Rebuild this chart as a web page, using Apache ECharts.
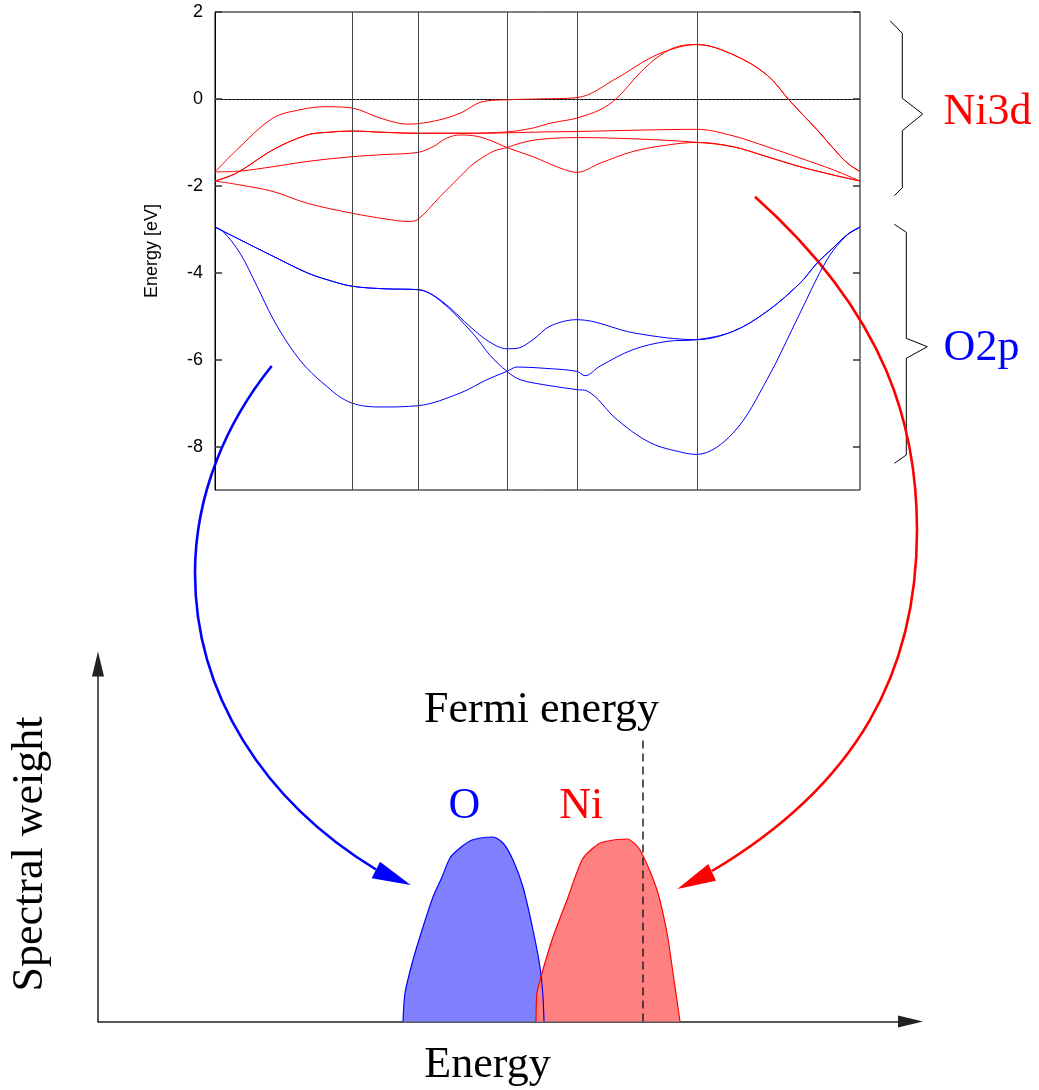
<!DOCTYPE html>
<html>
<head>
<meta charset="utf-8">
<title>NiO bands and spectral weight</title>
<script src="https://cdn.jsdelivr.net/npm/echarts@6/dist/echarts.min.js"></script>
<style>
  html, body { margin: 0; padding: 0; background: #fff; }
  #main { width: 1039px; height: 1090px; }
</style>
</head>
<body>
<div id="main"></div>
<script>
// k-path (arbitrary units) and high symmetry points
var kMax = 645;
var symPoints = [137, 203, 292, 362, 482];
var energyTicks = [-8, -6, -4, -2, 0, 2];

// Ni 3d bands, [k, E in eV]
var ni1 = [[0,-1.68],[25,-1.1],[58,-0.44],[85,-0.25],[110,-0.18],[137,-0.21],[165,-0.44],[193,-0.58],[203,-0.57],
  [225,-0.48],[245,-0.33],[268,-0.06],[292,-0.02],[325,0.0],[362,0.03],[402,0.48],[435,0.94],[462,1.18],[482,1.25],
  [518,1.02],[552,0.55],[575,-0.05],[602,-0.71],[618,-1.13],[632,-1.47],[645,-1.67]];
var ni2 = [[0,-1.89],[22,-1.7],[58,-1.17],[92,-0.83],[112,-0.77],[137,-0.74],[170,-0.77],[203,-0.79],[250,-0.79],
  [292,-0.76],[318,-0.67],[335,-0.56],[352,-0.49],[362,-0.44],[385,-0.25],[402,0.02],[425,0.6],[445,1.0],[465,1.22],
  [482,1.25],[518,1.02],[552,0.55],[575,-0.05],[602,-0.71],[618,-1.13],[632,-1.47],[645,-1.67]];
var ni3 = [[0,-1.89],[22,-1.7],[58,-1.17],[92,-0.83],[112,-0.77],[137,-0.74],[170,-0.77],[203,-0.79],[250,-0.79],
  [292,-0.78],[330,-0.76],[362,-0.75],[420,-0.72],[482,-0.70],[518,-0.85],[552,-1.1],[585,-1.36],[618,-1.63],[645,-1.89]];
var ni4 = [[0,-1.68],[25,-1.66],[58,-1.56],[92,-1.44],[137,-1.33],[170,-1.28],[203,-1.23],[218,-1.1],[232,-0.9],
  [245,-0.83],[262,-0.86],[278,-0.98],[292,-1.12],[318,-1.33],[345,-1.59],[362,-1.69],[385,-1.48],[418,-1.21],
  [450,-1.07],[482,-1.0],[518,-1.1],[552,-1.33],[585,-1.56],[618,-1.75],[645,-1.89]];
var ni5 = [[0,-1.89],[25,-1.98],[58,-2.13],[92,-2.4],[137,-2.63],[170,-2.76],[193,-2.82],[203,-2.77],[225,-2.25],
  [245,-1.79],[258,-1.5],[278,-1.21],[292,-1.12],[305,-1.02],[325,-0.93],[362,-0.89],[420,-0.92],[482,-1.0],
  [518,-1.1],[552,-1.33],[585,-1.56],[618,-1.75],[645,-1.89]];

// O 2p bands
var o1 = [[0,-2.95],[25,-3.24],[58,-3.62],[92,-4.0],[112,-4.16],[137,-4.31],[170,-4.37],[203,-4.39],[225,-4.62],
  [258,-5.3],[275,-5.6],[292,-5.75],[302,-5.74],[318,-5.54],[335,-5.23],[362,-5.08],[420,-5.39],[482,-5.54],
  [518,-5.35],[552,-4.89],[585,-4.24],[602,-3.78],[618,-3.43],[632,-3.13],[645,-2.95]];
var o2 = [[0,-2.95],[25,-3.24],[58,-3.62],[92,-4.0],[112,-4.16],[137,-4.31],[170,-4.37],[203,-4.39],[225,-4.64],
  [258,-5.4],[275,-5.9],[292,-6.27],[305,-6.46],[335,-6.6],[362,-6.69],[372,-6.72],[402,-7.38],[435,-7.91],
  [468,-8.14],[482,-8.18],[518,-7.69],[552,-6.46],[585,-4.93],[612,-3.7],[632,-3.13],[645,-2.95]];
var o3 = [[0,-2.95],[8,-3.05],[25,-3.55],[42,-4.31],[58,-5.06],[75,-5.7],[92,-6.2],[112,-6.62],[125,-6.86],
  [137,-7.0],[150,-7.07],[165,-7.09],[203,-7.06],[245,-6.77],[272,-6.46],[292,-6.27],[302,-6.17],[330,-6.2],
  [362,-6.27],[370,-6.37],[385,-6.15],[418,-5.77],[452,-5.58],[482,-5.54],[518,-5.35],[552,-4.89],[585,-4.24],
  [602,-3.78],[618,-3.43],[632,-3.13],[645,-2.95]];

// spectral weight, [energy, weight] (arbitrary units)
var oWeight = [[3.05,0],[3.07,0.285],[3.15,0.615],[3.25,0.945],[3.35,1.245],[3.44,1.445],[3.52,1.635],[3.62,1.735],
  [3.74,1.815],[3.95,1.845],[4.05,1.785],[4.15,1.615],[4.25,1.345],[4.35,0.915],[4.42,0.545],[4.45,0.245],[4.46,0]];
var niWeight = [[4.38,0],[4.39,0.285],[4.44,0.485],[4.55,0.845],[4.69,1.215],[4.84,1.615],[4.95,1.735],[5.05,1.795],
  [5.29,1.825],[5.42,1.715],[5.59,1.315],[5.69,0.885],[5.75,0.485],[5.82,0]];
var fermiEnergy = 5.45;
var fermiTop = 2.835;

var chart = echarts.init(document.getElementById('main'));

function band(data, color) {
  return {
    type: 'line', xAxisIndex: 0, yAxisIndex: 0, data: data,
    showSymbol: false, smooth: 0.35, silent: true,
    lineStyle: { color: color, width: 1 }
  };
}

var series = [
  {
    type: 'line', xAxisIndex: 0, yAxisIndex: 0, data: [], silent: true,
    markLine: {
      symbol: ['none', 'none'], silent: true, animation: false,
      label: { show: false },
      lineStyle: { color: '#444', width: 1, type: 'solid' },
      data: symPoints.map(function (k) { return { xAxis: k }; }).concat([
        { yAxis: 0, lineStyle: { color: '#555', width: 1, type: [1.5, 2.5] } }
      ])
    }
  },
  band(ni1, '#ff0000'), band(ni2, '#ff0000'), band(ni3, '#ff0000'), band(ni4, '#ff0000'), band(ni5, '#ff0000'),
  band(o1, '#0000ff'), band(o2, '#0000ff'), band(o3, '#0000ff'),
  {
    type: 'line', xAxisIndex: 1, yAxisIndex: 2, data: oWeight, showSymbol: false, smooth: 0.25, silent: true,
    lineStyle: { color: '#0000ff', width: 1.2 },
    areaStyle: { color: '#8080ff', opacity: 1 }
  },
  {
    type: 'line', xAxisIndex: 1, yAxisIndex: 2, data: niWeight, showSymbol: false, smooth: 0.25, silent: true,
    lineStyle: { color: '#ff0000', width: 1.2 },
    areaStyle: { color: '#ff8080', opacity: 1 }
  },
  {
    type: 'line', xAxisIndex: 1, yAxisIndex: 2, showSymbol: false, silent: true,
    data: [[fermiEnergy, 0], [fermiEnergy, fermiTop]],
    lineStyle: { color: '#222', width: 1.5, type: [8, 5] }
  }
];

// curly braces, curved arrows (start, control 1, control 2, end)
var ni3dBrace = [[890,20.7],[902.3,33.3],[902.3,98.3],[922.7,114],[902.3,130.7],[902.3,187.7],[894.3,195.7]];
var o2pBrace = [[894.3,224.3],[906.3,232.3],[906.3,338.3],[927.3,346.7],[906.3,358.3],[906.3,455],[894.3,463.3]];
var blueArc = [
  [[271.7,366],[227.6,420.6],[195,493],[195,573]],
  [[195,573],[195,693],[262.8,800.4],[376,869.5]]
];
var redArc = [
  [[755,196.7],[889.3,316.6],[917,430],[917,530]],
  [[917,530],[917,670],[859.5,783.3],[712,871]]
];
var blueHead = [[371.7,878.3],[380,861.7],[410.7,885]];
var redHead = [[708.3,864],[716,880.7],[677.3,889]];

function curve(seg, color) {
  return {
    type: 'bezierCurve', silent: true,
    shape: { x1: seg[0][0], y1: seg[0][1], cpx1: seg[1][0], cpy1: seg[1][1],
             cpx2: seg[2][0], cpy2: seg[2][1], x2: seg[3][0], y2: seg[3][1] },
    style: { stroke: color, lineWidth: 2.6, fill: null }
  };
}

var serif = 'Liberation Serif, Times New Roman, serif';
function label(text, x, y, color, rot) {
  return {
    type: 'text', x: x, y: y, rotation: rot || 0, silent: true,
    style: { text: text, x: 0, y: 0, fill: color, font: '44px ' + serif, align: 'center', verticalAlign: 'middle' }
  };
}

var graphics = [
  { type: 'polyline', silent: true, shape: { points: ni3dBrace }, style: { stroke: '#000', lineWidth: 1, fill: null } },
  { type: 'polyline', silent: true, shape: { points: o2pBrace }, style: { stroke: '#000', lineWidth: 1, fill: null } }
];
blueArc.forEach(function (s) { graphics.push(curve(s, '#0000ff')); });
redArc.forEach(function (s) { graphics.push(curve(s, '#ff0000')); });
graphics.push(
  { type: 'polygon', silent: true, shape: { points: blueHead }, style: { fill: '#0000ff' } },
  { type: 'polygon', silent: true, shape: { points: redHead }, style: { fill: '#ff0000' } },
  label('Ni3d', 987.5, 112, '#ff0000'),
  label('O2p', 981.5, 348.5, '#0000ff'),
  label('O', 464.5, 806, '#0000ff'),
  label('Ni', 581.3, 806, '#ff0000'),
  label('Fermi energy', 541.5, 710, '#000'),
  label('Spectral weight', 30, 854, '#000', Math.PI / 2),
  label('Energy', 487.5, 1065.5, '#000')
);

var option = {
  animation: false,
  backgroundColor: '#fff',
  grid: [
    { left: 215, right: 179, top: 12, bottom: 600, show: true, borderColor: '#000', borderWidth: 1 },
    { left: 98, right: 128.5, top: 664, bottom: 68.5 }
  ],
  xAxis: [
    {
      type: 'value', gridIndex: 0, min: 0, max: kMax,
      axisLine: { lineStyle: { color: '#000' } },
      axisTick: { show: false }, axisLabel: { show: false }, splitLine: { show: false }
    },
    {
      type: 'value', gridIndex: 1, min: 0, max: 8.125,
      axisLine: { symbol: ['none', 'triangle'], symbolSize: [12, 25], lineStyle: { color: '#222', width: 1.5 } },
      axisTick: { show: false }, axisLabel: { show: false }, splitLine: { show: false }
    }
  ],
  yAxis: [
    {
      type: 'value', gridIndex: 0, min: -9, max: 2,
      name: 'Energy [eV]', nameLocation: 'middle', nameGap: 54,
      nameTextStyle: { fontFamily: 'Liberation Sans, Arial, sans-serif', fontSize: 18, color: '#000' },
      axisLine: { lineStyle: { color: '#000' } },
      axisTick: { inside: true, length: 7, customValues: energyTicks, lineStyle: { color: '#333', width: 1.5 } },
      axisLabel: { customValues: energyTicks, margin: 12, color: '#000', fontSize: 18, fontFamily: 'Liberation Sans, Arial, sans-serif' },
      splitLine: { show: false }
    },
    {
      type: 'value', gridIndex: 0, min: -9, max: 2, position: 'right',
      axisLine: { show: false },
      axisTick: { inside: true, length: 7, customValues: energyTicks, lineStyle: { color: '#333', width: 1.5 } },
      axisLabel: { show: false }, splitLine: { show: false }
    },
    {
      type: 'value', gridIndex: 1, min: 0, max: 3.575,
      axisLine: { symbol: ['none', 'triangle'], symbolSize: [12, 25], lineStyle: { color: '#222', width: 1.5 } },
      axisTick: { show: false }, axisLabel: { show: false }, splitLine: { show: false }
    }
  ],
  series: series,
  graphic: graphics
};

chart.setOption(option);
</script>
</body>
</html>
